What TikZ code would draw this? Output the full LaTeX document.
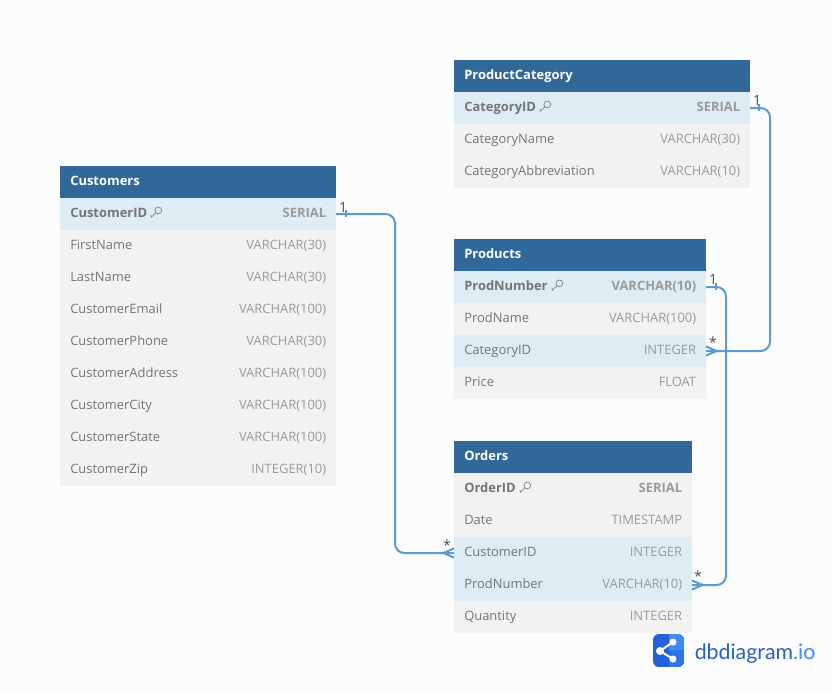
\documentclass[tikz,border=0pt]{standalone}
\usepackage{fontspec}
\setmainfont{Open Sans}
\newfontfamily\logofont{Lato}
\definecolor{pagebg}{HTML}{FCFCFC}
\definecolor{headbg}{HTML}{30689A}
\definecolor{hlbg}{HTML}{DEECF4}
\definecolor{rowbg}{HTML}{F2F2F2}
\definecolor{lefttxt}{HTML}{757575}
\definecolor{righttxt}{HTML}{9A9A9A}
\definecolor{rel}{HTML}{5B9BD0}
\definecolor{logodark}{HTML}{2460D8}
\definecolor{logotext}{HTML}{2A62C0}
\definecolor{logolight}{HTML}{3F8CF0}
\definecolor{logomid}{HTML}{2F74E2}
\tikzset{
  x=0.75pt,y=-0.75pt,
  band/.style={rectangle,anchor=north west,inner sep=0pt,outer sep=0pt,minimum height=24pt},
  lbl/.style={anchor=base west,inner sep=0pt,font=\fontsize{9.7pt}{12pt}\selectfont,text=lefttxt},
  typ/.style={anchor=base east,inner sep=0pt,font=\fontsize{9.7pt}{12pt}\selectfont,text=righttxt},
  boldtxt/.style={font=\fontsize{9.7pt}{12pt}\selectfont\bfseries},
  relline/.style={draw=rel,line width=1.5pt,rounded corners=7pt},
  relmark/.style={draw=rel,line width=1.5pt},
  card/.style={inner sep=0pt,text=black!70,font=\fontsize{10.5pt}{12pt}\selectfont},
  keyicon/.style={draw=lefttxt!85,line width=0.6pt},
}
% name, x, y, width, title
\newcommand{\headrow}[5]{%
  \node[band,fill=headbg,minimum width=#4*0.75pt] (#1) at (#2,#3) {};
  \node[anchor=base west,inner sep=0pt,text=white,boldtxt] (#1-t) at (#2+10,#3+19) {#5};
}
% name, x, y, width, fill, left, right, bold-or-not style
\newcommand{\tablerow}[8]{%
  \node[band,fill=#5,minimum width=#4*0.75pt] (#1) at (#2,#3) {};
  \node[lbl,#8] (#1-l) at (#2+10,#3+19) {#6};
  \node[typ,#8] (#1-r) at (#2+#4-9.6,#3+19) {#7};
}
\newcommand{\keyglyph}[2]{%
  \draw[keyicon] (#1+2.3,#2-1.6) circle[radius=3.4];
  \draw[keyicon] (#1-0.2,#2+0.9) -- (#1-4.6,#2+5.2) -- (#1-5,#2+2.8);
}
\begin{document}
\begin{tikzpicture}
\useasboundingbox (0,0) rectangle (832,693);
\fill[pagebg] (0,0) rectangle (832,693);

% Customers
\headrow{cu}{60}{166}{276}{Customers}
\tablerow{cu1}{60}{198}{276}{hlbg}{CustomerID}{SERIAL}{boldtxt}
\tablerow{cu2}{60}{230}{276}{rowbg}{FirstName}{VARCHAR(30)}{}
\tablerow{cu3}{60}{262}{276}{rowbg}{LastName}{VARCHAR(30)}{}
\tablerow{cu4}{60}{294}{276}{rowbg}{CustomerEmail}{VARCHAR(100)}{}
\tablerow{cu5}{60}{326}{276}{rowbg}{CustomerPhone}{VARCHAR(30)}{}
\tablerow{cu6}{60}{358}{276}{rowbg}{CustomerAddress}{VARCHAR(100)}{}
\tablerow{cu7}{60}{390}{276}{rowbg}{CustomerCity}{VARCHAR(100)}{}
\tablerow{cu8}{60}{422}{276}{rowbg}{CustomerState}{VARCHAR(100)}{}
\tablerow{cu9}{60}{454}{276}{rowbg}{CustomerZip}{INTEGER(10)}{}
\keyglyph{156}{212}

% ProductCategory
\headrow{pc}{454}{60}{296}{ProductCategory}
\tablerow{pc1}{454}{92}{296}{hlbg}{CategoryID}{SERIAL}{boldtxt}
\tablerow{pc2}{454}{124}{296}{rowbg}{CategoryName}{VARCHAR(30)}{}
\tablerow{pc3}{454}{156}{296}{rowbg}{CategoryAbbreviation}{VARCHAR(10)}{}
\keyglyph{545}{106}

% Products
\headrow{pr}{454}{239}{252}{Products}
\tablerow{pr1}{454}{271}{252}{hlbg}{ProdNumber}{VARCHAR(10)}{boldtxt}
\tablerow{pr2}{454}{303}{252}{rowbg}{ProdName}{VARCHAR(100)}{}
\tablerow{pr3}{454}{335}{252}{hlbg}{CategoryID}{INTEGER}{}
\tablerow{pr4}{454}{367}{252}{rowbg}{Price}{FLOAT}{}
\keyglyph{557}{285}

% Orders
\headrow{or}{454}{441}{238}{Orders}
\tablerow{or1}{454}{473}{238}{rowbg}{OrderID}{SERIAL}{boldtxt}
\tablerow{or2}{454}{505}{238}{rowbg}{Date}{TIMESTAMP}{}
\tablerow{or3}{454}{537}{238}{hlbg}{CustomerID}{INTEGER}{}
\tablerow{or4}{454}{569}{238}{hlbg}{ProdNumber}{VARCHAR(10)}{}
\tablerow{or5}{454}{601}{238}{rowbg}{Quantity}{INTEGER}{}
\keyglyph{525}{487}

% Connectors
\draw[relline] (cu1.east) -- ++(59,0) |- (or3.west);
\draw[relline] (pc1.east) -- ++(20,0) |- (pr3.east);
\draw[relline] (pr1.east) -- ++(20,0) |- (or4.east);

% one-side ticks
\draw[relmark] ([xshift=7.5pt,yshift=3pt]cu1.east) -- ++(0,-5.25pt);
\draw[relmark] ([xshift=7pt,yshift=3pt]pc1.east) -- ++(0,-5.25pt);
\draw[relmark] ([xshift=7.5pt,yshift=3pt]pr1.east) -- ++(0,-5.25pt);

% many-side crow's feet
\draw[relmark] ([yshift=3.4pt]or3.west) -- ([xshift=-8pt]or3.west) -- ([yshift=-3.4pt]or3.west);
\draw[relmark] ([yshift=3.4pt]pr3.east) -- ([xshift=8pt]pr3.east) -- ([yshift=-3.4pt]pr3.east);
\draw[relmark] ([yshift=3.4pt]or4.east) -- ([xshift=8pt]or4.east) -- ([yshift=-3.4pt]or4.east);

% cardinalities
\node[card] (c1) at (343,207) {1};
\node[card] (c2) at (447,545) {*};
\node[card] (c3) at (757,100) {1};
\node[card] (c4) at (713,342) {*};
\node[card] (c5) at (713,279) {1};
\node[card] (c6) at (698,576) {*};

% logo
\begin{scope}
\clip[rounded corners=4.5pt] (653,634) rectangle (684,667);
\fill[logodark] (653,634) rectangle (684,667);
\fill[logomid] (669,650) rectangle (684,667);
\fill[logolight] (669,634) rectangle (684,650);
\end{scope}
\draw[white,line width=1.5pt] (673,642) -- (660,651) -- (673,659);
\fill[white] (660,651) circle[radius=4];
\fill[white] (673,642) circle[radius=3.5];
\fill[white] (673,659) circle[radius=3.5];
\node[anchor=base west,inner sep=0pt,font=\logofont\fontsize{16pt}{18pt}\selectfont] (logo) at (694.5,659)
  {\textcolor{logotext}{dbdiagram}\textcolor{logolight}{.io}};
\end{tikzpicture}
\end{document}
